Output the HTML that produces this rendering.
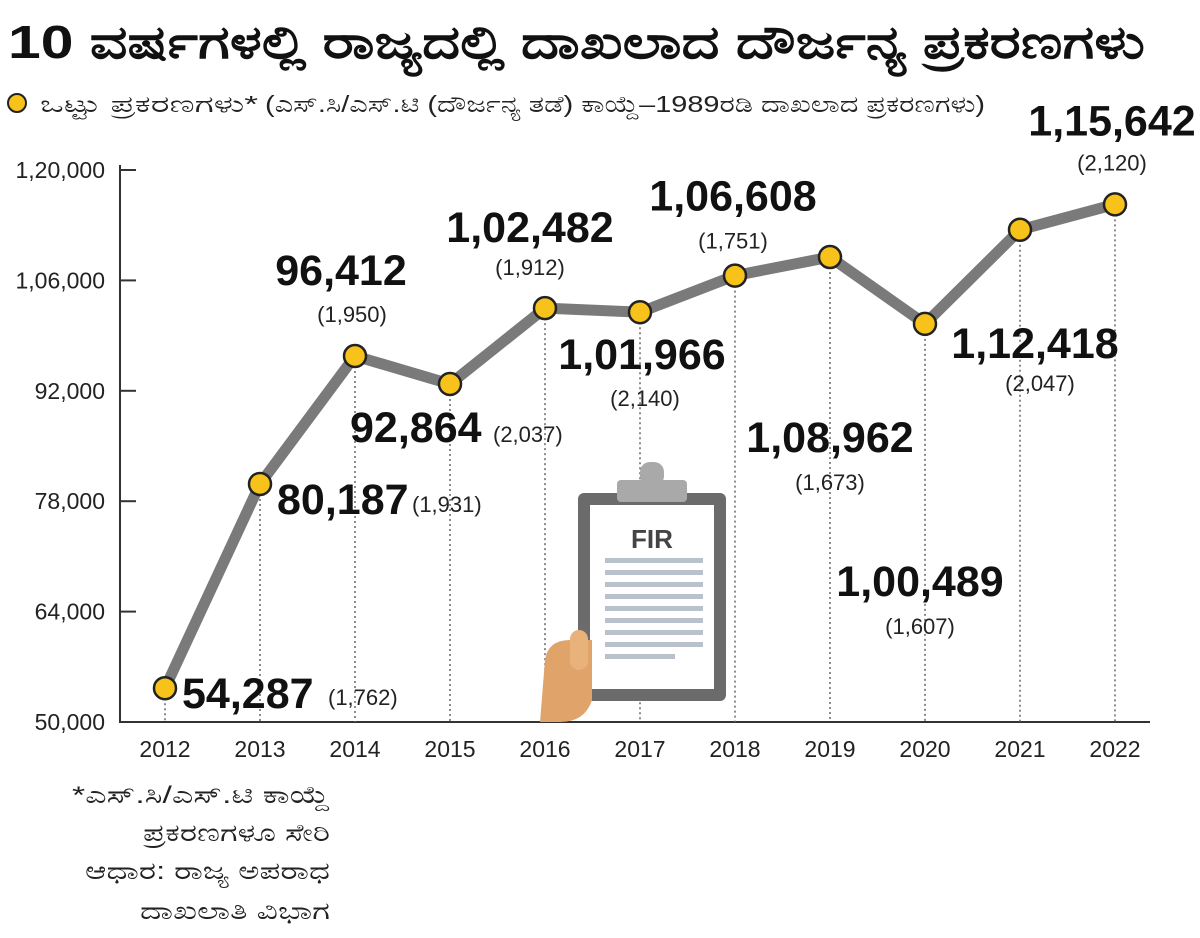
<!DOCTYPE html>
<html><head><meta charset="utf-8">
<style>
html,body{margin:0;padding:0;background:#fff;}
body{width:1200px;height:933px;overflow:hidden;font-family:"Liberation Sans",sans-serif;}
svg text{font-family:"Liberation Sans","DejaVu Sans",sans-serif;}
</style></head><body>
<svg id="chart" width="1200" height="933" viewBox="0 0 1200 933">
<text x="8" y="58" font-size="46" font-weight="bold" fill="#111" textLength="1137" lengthAdjust="spacingAndGlyphs">10 ವರ್ಷಗಳಲ್ಲಿ ರಾಜ್ಯದಲ್ಲಿ ದಾಖಲಾದ ದೌರ್ಜನ್ಯ ಪ್ರಕರಣಗಳು</text>
<g>
<circle cx="17" cy="103" r="9" fill="#f7c21a" stroke="#222" stroke-width="2"/>
<text x="40" y="112" font-size="23" fill="#222" textLength="218" lengthAdjust="spacingAndGlyphs">ಒಟ್ಟು ಪ್ರಕರಣಗಳು*</text>
<text x="265" y="112" font-size="23" fill="#222" textLength="720" lengthAdjust="spacingAndGlyphs">(ಎಸ್.ಸಿ/ಎಸ್.ಟಿ (ದೌರ್ಜನ್ಯ ತಡೆ) ಕಾಯ್ದೆ–1989ರಡಿ ದಾಖಲಾದ ಪ್ರಕರಣಗಳು)</text>
</g>
<g id="axes"></g>
<g id="illus">
<rect x="578" y="493" width="148" height="208" rx="6" fill="#6b6b6b"/>
<rect x="590" y="505" width="124" height="184" fill="#fff"/>
<rect x="617" y="480" width="70" height="22" rx="4" fill="#a9a9a9"/>
<rect x="640" y="462" width="24" height="24" rx="10" fill="#a9a9a9"/>
<text x="652" y="548" font-size="26" font-weight="bold" text-anchor="middle" fill="#444">FIR</text>
<g fill="#b9c2cc">
<rect x="605" y="558" width="98" height="5"/><rect x="605" y="570" width="98" height="5"/><rect x="605" y="582" width="98" height="5"/><rect x="605" y="594" width="98" height="5"/><rect x="605" y="606" width="98" height="5"/><rect x="605" y="618" width="98" height="5"/><rect x="605" y="630" width="98" height="5"/><rect x="605" y="642" width="98" height="5"/><rect x="605" y="654" width="70" height="5"/>
</g>
<path d="M545 660 Q548 640 570 640 L592 640 L592 700 Q585 722 560 722 L540 722 Z" fill="#e0a46a"/>
<rect x="570" y="630" width="18" height="40" rx="9" fill="#e8b27a"/>
</g>
<g id="plot"></g>
<g font-size="24" fill="#222">
<text x="72" y="803" textLength="258" lengthAdjust="spacingAndGlyphs">*ಎಸ್.ಸಿ/ಎಸ್.ಟಿ ಕಾಯ್ದೆ</text>
<text x="143" y="841" textLength="187" lengthAdjust="spacingAndGlyphs">ಪ್ರಕರಣಗಳೂ ಸೇರಿ</text>
<text x="85" y="879" textLength="245" lengthAdjust="spacingAndGlyphs">ಆಧಾರ: ರಾಜ್ಯ ಅಪರಾಧ</text>
<text x="140" y="919" textLength="190" lengthAdjust="spacingAndGlyphs">ದಾಖಲಾತಿ ವಿಭಾಗ</text>
</g>
</svg>
<script>
const years=["2012","2013","2014","2015","2016","2017","2018","2019","2020","2021","2022"];
const totals=[54287,80187,96412,92864,102482,101966,106608,108962,100489,112418,115642];
const scst=["1,762","1,931","1,950","2,037","1,912","2,140","1,751","1,673","1,607","2,047","2,120"];
const valueLabels=["54,287","80,187","96,412","92,864","1,02,482","1,01,966","1,06,608","1,08,962","1,00,489","1,12,418","1,15,642"];
const yTicks=[50000,64000,78000,92000,106000,120000];
const yTickLabels=["50,000","64,000","78,000","92,000","1,06,000","1,20,000"];
// layout (styles only): [mode, dx, dy, pdx, pdy]
const labelLayout=[["r",17,20,163,17],["r",17,30,152,28],["c",-14,-71,-3,-34],["r",-100,58,43,58],["c",-15,-66,-15,-33],["c",2,57,5,94],["c",-2,-65,-2,-27],["c",0,195,0,233],["c",-5,272,-5,310],["c",15,128,20,161],["c",-3,-69,-3,-34]];
const NS="http://www.w3.org/2000/svg";
const x=i=>165+i*95;
const y=v=>722-(v-50000)/14000*110.4;
function mk(t,a,p){const e=document.createElementNS(NS,t);for(const k in a)e.setAttribute(k,a[k]);p.appendChild(e);return e;}
const ax=document.getElementById('axes'),pl=document.getElementById('plot');
let l=mk('line',{x1:120,y1:165,x2:120,y2:723,stroke:'#333','stroke-width':2},ax);


l=mk('line',{x1:119,y1:722,x2:1150,y2:722,stroke:'#333','stroke-width':2},ax);


yTicks.forEach((v,i)=>{
 const tk=mk('line',{x1:120,y1:y(v),x2:136,y2:y(v),stroke:'#333','stroke-width':2},ax);
 
 
 const t=mk('text',{x:105,y:y(v)+8,'font-size':23,'text-anchor':'end',fill:'#222'},ax);
 t.textContent=yTickLabels[i];
 
 
});
years.forEach((yr,i)=>{
 const d=mk('line',{x1:x(i),y1:y(totals[i]),x2:x(i),y2:722,stroke:'#666','stroke-width':1.5,'stroke-dasharray':'2,3'},ax);
 
 
 const t=mk('text',{x:x(i),y:757,'font-size':23,'text-anchor':'middle',fill:'#222'},ax);
 t.textContent=yr;
 
 
});
const line=mk('polyline',{points:totals.map((v,i)=>x(i)+','+y(v)).join(' '),fill:'none',stroke:'#7a7a7a','stroke-width':11,'stroke-linejoin':'round'},pl);


totals.forEach((v,i)=>{
 const c=mk('circle',{cx:x(i),cy:y(v),r:11,fill:'#f7c21a',stroke:'#222','stroke-width':2.5},pl);
 
 
 const L=labelLayout[i],px=x(i),py=y(v);
 const t=mk('text',{x:px+L[1],y:py+L[2],'font-size':43,'font-weight':'bold','text-anchor':L[0]=='r'?'start':'middle',fill:'#111'},pl);
 t.textContent=valueLabels[i];
 
 
 const p=mk('text',{x:px+L[3],y:py+L[4],'font-size':22,'text-anchor':L[0]=='r'?'start':'middle',fill:'#222'},pl);
 p.textContent='('+scst[i]+')';
 
 
});
</script>
</body></html>
